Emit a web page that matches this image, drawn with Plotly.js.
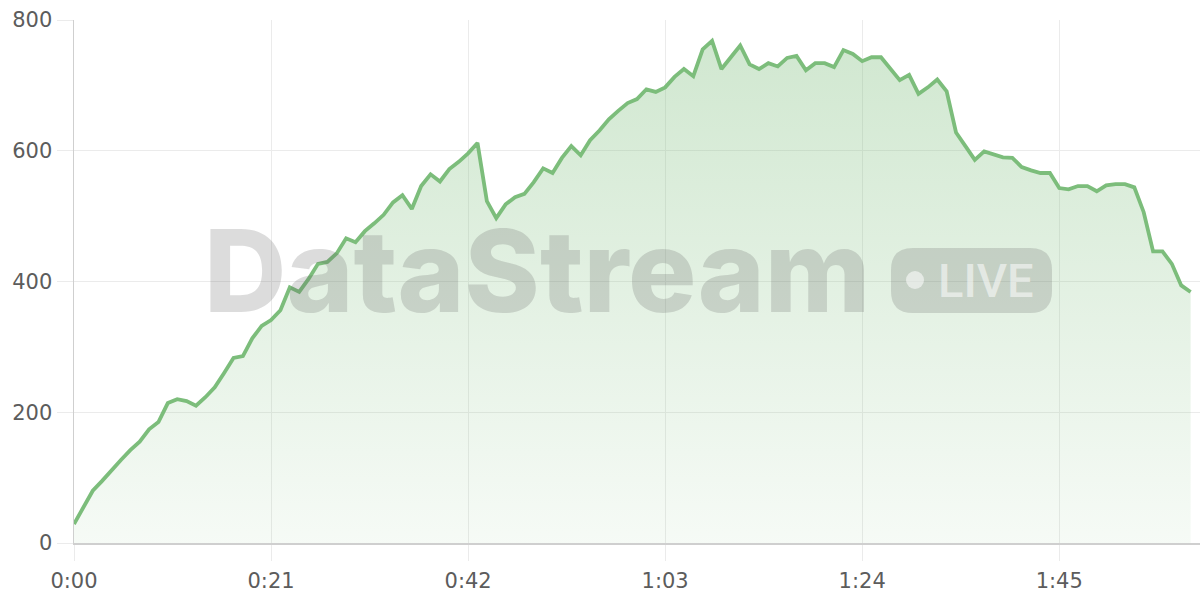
<!DOCTYPE html>
<html>
<head>
<meta charset="utf-8">
<script src="https://cdn.plot.ly/plotly-3.0.1.min.js"></script>
<style>
  html, body { margin: 0; padding: 0; background: #ffffff; }
  #chart { width: 1200px; height: 600px; }
</style>
</head>
<body>
<div id="chart"></div>
<script>
// ---- data ----
const seconds = [
  0,1,2,3,4,5,6,7,8,9,
  10,11,12,13,14,15,16,17,18,19,
  20,21,22,23,24,25,26,27,28,29,
  30,31,32,33,34,35,36,37,38,39,
  40,41,42,43,44,45,46,47,48,49,
  50,51,52,53,54,55,56,57,58,59,
  60,61,62,63,64,65,66,67,68,69,
  70,71,72,73,74,75,76,77,78,79,
  80,81,82,83,84,85,86,87,88,89,
  90,91,92,93,94,95,96,97,98,99,
  100,101,102,103,104,105,106,107,108,109,
  110,111,112,113,114,115,116,117,118,119
];
const values = [
  29,55,80,95,112,127,142,155,174,185,
  214,220,217,210,223,238,260,283,286,313,
  332,341,356,391,384,404,427,430,443,466,
  460,477,489,502,521,532,511,546,564,553,
  572,583,596,612,523,497,518,529,534,552,
  573,566,589,607,593,616,631,648,661,673,
  679,694,690,697,713,725,714,755,768,725,
  743,761,732,725,734,729,742,745,723,734,
  734,728,754,748,737,743,743,726,708,716,
  687,697,709,691,628,607,586,599,595,590,
  589,575,570,566,566,543,541,546,546,538,
  547,549,549,544,506,446,446,427,394,384
];
const xTickVals = [0, 21, 42, 63, 84, 105];
const xTickText = ["0:00", "0:21", "0:42", "1:03", "1:24", "1:45"];
const yTickVals = [0, 200, 400, 600, 800];
const watermarkText = "DataStream";
const badgeText = "LIVE";

// ---- styles ----
const lineColor = "#7cbd7b";
const gridColor = "#ebebeb";
const axisColor = "#cfcfcf";
const textColor = "#5c5c5c";

// plot-area geometry helpers (paper coordinates from pixel positions)
const L = 74, T = 20, W = 1126, H = 523;
const px = v => (v - L) / W;
const py = v => (T + H - v) / H;

function roundedRect(x0, y0, x1, y1, r) {
  const a = px(x0), b = px(x1), c = py(y0), d = py(y1);
  const rx = r / W, ry = r / H;
  return `M ${a + rx} ${c} L ${b - rx} ${c} Q ${b} ${c} ${b} ${c - ry} ` +
         `L ${b} ${d + ry} Q ${b} ${d} ${b - rx} ${d} L ${a + rx} ${d} ` +
         `Q ${a} ${d} ${a} ${d + ry} L ${a} ${c - ry} Q ${a} ${c} ${a + rx} ${c} Z`;
}

const trace = {
  x: seconds,
  y: values,
  type: "scatter",
  mode: "lines",
  line: { color: lineColor, width: 3.8 },
  fill: "tozeroy",
  fillgradient: {
    type: "vertical",
    start: 0,
    stop: 780,
    colorscale: [
      [0, "rgba(124,189,123,0.07)"],
      [1, "rgba(124,189,123,0.36)"]
    ]
  },
  hoverinfo: "skip"
};

const layout = {
  width: 1200,
  height: 600,
  margin: { l: L, r: 0, t: T, b: 600 - T - H },
  paper_bgcolor: "#ffffff",
  plot_bgcolor: "#ffffff",
  showlegend: false,
  font: { family: "DejaVu Sans, sans-serif", size: 21, color: textColor },
  xaxis: {
    range: [0, 120],
    tickmode: "array",
    tickvals: xTickVals,
    ticktext: xTickText,
    showgrid: true,
    gridcolor: gridColor,
    gridwidth: 1,
    zeroline: false,
    showline: true,
    linecolor: axisColor,
    linewidth: 1.5,
    ticks: "outside",
    ticklen: 16,
    tickcolor: gridColor,
    tickwidth: 1,
    ticklabelstandoff: 2,
    fixedrange: true
  },
  yaxis: {
    range: [0, 800],
    tickmode: "array",
    tickvals: yTickVals,
    showgrid: true,
    gridcolor: gridColor,
    gridwidth: 1,
    zeroline: false,
    showline: true,
    linecolor: axisColor,
    linewidth: 1.5,
    ticks: "outside",
    ticklen: 16,
    tickcolor: gridColor,
    tickwidth: 1,
    fixedrange: true
  },
  shapes: [
    {
      type: "path",
      xref: "paper", yref: "paper",
      path: roundedRect(891, 248, 1052, 313, 22),
      fillcolor: "rgba(95,95,95,0.22)",
      line: { width: 0 },
      layer: "above"
    },
    {
      type: "circle",
      xref: "paper", yref: "paper",
      x0: px(906), x1: px(924), y0: py(289), y1: py(271),
      fillcolor: "rgba(255,255,255,0.55)",
      line: { width: 0 },
      layer: "above"
    }
  ],
  annotations: [
    {
      xref: "paper", yref: "paper",
      x: px(202), y: py(270),
      xanchor: "left", yanchor: "middle",
      text: watermarkText,
      showarrow: false,
      font: { family: "Inter, Roboto, sans-serif", size: 114, weight: 800, color: "rgba(95,95,95,0.22)" }
    },
    {
      xref: "paper", yref: "paper",
      x: px(936), y: py(280),
      xanchor: "left", yanchor: "middle",
      text: badgeText,
      showarrow: false,
      font: { family: "Roboto, Liberation Sans, sans-serif", size: 47, weight: 500, color: "rgba(255,255,255,0.55)" }
    }
  ]
};

Plotly.newPlot("chart", [trace], layout, { staticPlot: true, displayModeBar: false });
</script>
</body>
</html>
